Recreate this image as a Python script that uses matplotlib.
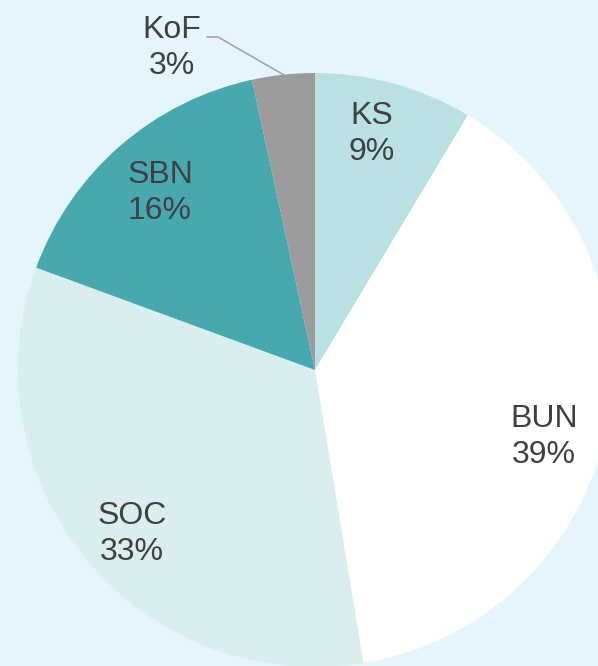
import numpy as np
import matplotlib.pyplot as plt

# shares (clockwise from 12 o'clock)
labels = ['KS', 'BUN', 'SOC', 'SBN', 'KoF']
shares = [8.6, 38.8, 33.2, 16.0, 3.4]
colors = ['#b9e1e4', '#ffffff', '#dbeeef', '#47a8b0', '#9b9b9b']

# label centres in pixels (x, y from top)
label_pos = {'KS': (372, 134), 'BUN': (544, 437), 'SOC': (132, 534),
             'SBN': (160, 193), 'KoF': (172, 48)}

bg = '#e5f5fc'
txt = '#404040'
H = 666

plt.rcParams['font.family'] = ['Liberation Sans', 'DejaVu Sans']

fig = plt.figure(figsize=(5.98, 6.66), dpi=100, facecolor=bg)
ax = fig.add_axes([0, 0, 1, 1])
ax.set_facecolor(bg)

cx, cy, r = 315, H - 370, 297
wedges, _ = ax.pie(shares, colors=colors, startangle=90, counterclock=False,
                   center=(cx, cy), radius=r, frame=True,
                   wedgeprops=dict(linewidth=0))
ax.set_xlim(0, 598)
ax.set_ylim(0, H)
ax.axis('off')

for lab, s in zip(labels, shares):
    x, y = label_pos[lab]
    ax.text(x, H - y, '%s\n%d%%' % (lab, round(s)), ha='center', va='center',
            fontsize=23, color=txt, linespacing=1.28)

# leader line for the small slice
ax.plot([207, 218, 284], [H - 37, H - 37, H - 75], color='#a6a6a6', lw=1.2)

fig.savefig('out.png', dpi=100, facecolor=bg)
